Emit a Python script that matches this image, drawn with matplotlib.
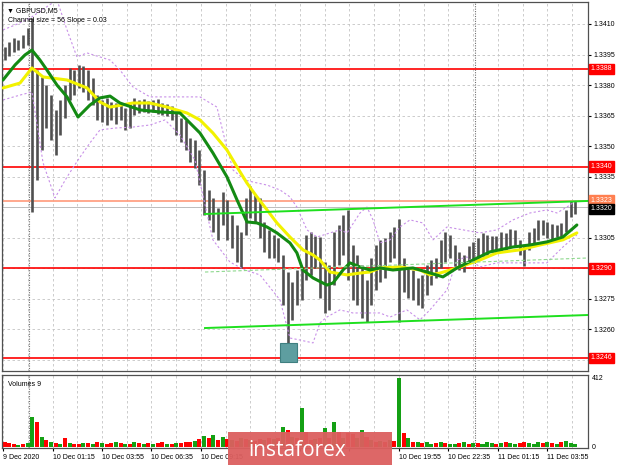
import numpy as np
import matplotlib
matplotlib.use('Agg')
import matplotlib.pyplot as plt
from matplotlib.patches import Rectangle

plt.rcParams['font.family'] = ['Liberation Sans', 'DejaVu Sans']

bar_idx = np.arange(124) * 3 + 1
highs = [1.33987, 1.34012, 1.34031, 1.34021, 1.34046, 1.34080, 1.34129, 1.33874, 1.33840, 1.33800,
         1.33751, 1.33678, 1.33727, 1.33800, 1.33884, 1.33874, 1.33899, 1.33894, 1.33874, 1.33835,
         1.33751, 1.33727, 1.33737, 1.33717, 1.33712, 1.33702, 1.33688, 1.33707, 1.33737, 1.33727,
         1.33732, 1.33722, 1.33727, 1.33732, 1.33712, 1.33707, 1.33697, 1.33668, 1.33638, 1.33629,
         1.33540, 1.33530, 1.33481, 1.33383, 1.33285, 1.33246, 1.33197, 1.33275, 1.33236, 1.33162,
         1.33113, 1.33079, 1.33246, 1.33305, 1.33260, 1.33246, 1.33128, 1.33089, 1.33064, 1.33049,
         1.32966, 1.32882, 1.32833, 1.32892, 1.32902, 1.33064, 1.33079, 1.33059, 1.33054, 1.32931,
         1.32917, 1.33079, 1.33113, 1.33162, 1.33187, 1.33015, 1.32966, 1.32917, 1.32843, 1.32951,
         1.33015, 1.33040, 1.33049, 1.33079, 1.33103, 1.33142, 1.32951, 1.32902, 1.32892, 1.32853,
         1.32868, 1.32917, 1.32941, 1.32951, 1.33040, 1.33079, 1.33064, 1.33015, 1.32981, 1.32966,
         1.33010, 1.33030, 1.33049, 1.33074, 1.33064, 1.33059, 1.33059, 1.33079, 1.33074, 1.33093,
         1.33089, 1.33040, 1.33010, 1.33079, 1.33098, 1.33138, 1.33138, 1.33128, 1.33118, 1.33113,
         1.33123, 1.33187, 1.33231, 1.33231]
lows = [1.33923, 1.33943, 1.33963, 1.33972, 1.33982, 1.33997, 1.33177, 1.33334, 1.33481, 1.33589,
        1.33530, 1.33457, 1.33555, 1.33638, 1.33727, 1.33751, 1.33786, 1.33766, 1.33727, 1.33702,
        1.33629, 1.33619, 1.33604, 1.33629, 1.33609, 1.33629, 1.33580, 1.33589, 1.33653, 1.33663,
        1.33668, 1.33663, 1.33668, 1.33658, 1.33653, 1.33648, 1.33629, 1.33555, 1.33521, 1.33481,
        1.33422, 1.33393, 1.33309, 1.33162, 1.33138, 1.33079, 1.33040, 1.33113, 1.33040, 1.33000,
        1.32931, 1.32902, 1.33064, 1.33147, 1.33128, 1.33049, 1.32981, 1.32951, 1.32951, 1.32931,
        1.32720, 1.32460, 1.32647, 1.32720, 1.32745, 1.32843, 1.32868, 1.32902, 1.32755, 1.32681,
        1.32696, 1.32818, 1.32917, 1.32966, 1.32843, 1.32745, 1.32720, 1.32656, 1.32637, 1.32720,
        1.32794, 1.32833, 1.32853, 1.32931, 1.32951, 1.32637, 1.32784, 1.32755, 1.32745, 1.32720,
        1.32706, 1.32769, 1.32818, 1.32853, 1.32902, 1.32931, 1.32951, 1.32902, 1.32892, 1.32882,
        1.32927, 1.32941, 1.32951, 1.32961, 1.32966, 1.32981, 1.32991, 1.32981, 1.32991, 1.33005,
        1.33010, 1.32966, 1.32912, 1.32991, 1.33015, 1.33040, 1.33064, 1.33049, 1.33040, 1.33054,
        1.33059, 1.33079, 1.33152, 1.33167]
volumes = [25, 20, 15, 10, 15, 20, 176, 145, 55, 40,
           25, 20, 15, 50, 24, 18, 15, 20, 22, 18,
           25, 20, 18, 22, 26, 20, 15, 18, 25, 20,
           15, 22, 18, 20, 25, 18, 15, 20, 22, 25,
           30, 35, 45, 66, 50, 70, 40, 55, 45, 40,
           35, 50, 45, 40, 35, 45, 40, 50, 45, 50,
           115, 97, 60, 50, 230, 85, 40, 45, 50, 110,
           50, 145, 85, 50, 80, 75, 50, 97, 60, 40,
           30, 35, 30, 40, 35, 412, 80, 50, 30, 25,
           20, 25, 18, 22, 25, 20, 15, 18, 20, 25,
           15, 20, 22, 18, 25, 20, 18, 22, 25, 20,
           18, 22, 25, 20, 18, 25, 22, 30, 20, 18,
           25, 36, 20, 18]
vol_dir = ("rrrgrggrgr" "grgrgrrgrg" "rgrrgrgrgr" "grgrrgrgrr" "rgrgrgrgrg"
           "rgrgrrgrgr" "grgrgrrgrg" "rgrgrrggrg" "rgrgrgrgrg" "rggrgrggrg"
           "rgrgggrgrg" "grrgggrgrg" "rggg")

# moving averages and bands (bar index, price)
ma_fast_x = [0, 7.8, 14.2, 18.7, 23.9, 28.4, 34.9, 41.4, 48.5, 56.2, 62.7, 69.2, 75.6, 88.6, 101.5,
             114.4, 127.3, 135.7, 144.8, 151.3, 157.7, 164.2, 170.7, 177.1, 185.5, 190.0, 193.9,
             200.4, 209.4, 213.3, 219.8, 224.3, 230.8, 237.2, 243.7, 252.1, 265.0, 274.1, 284.4,
             293.5, 303.8, 314.8, 329.7, 340.7, 351.6, 362.0, 371.0]
ma_fast = [1.33825, 1.33899, 1.33948, 1.33972, 1.33923, 1.33874, 1.33800, 1.33742, 1.33643, 1.33702,
           1.33737, 1.33746, 1.33712, 1.33678, 1.33668, 1.33663, 1.33565, 1.33467, 1.33349, 1.33236,
           1.33128, 1.33123, 1.33103, 1.33074, 1.33025, 1.32976, 1.32892, 1.32853, 1.32818, 1.32828,
           1.32892, 1.32927, 1.32907, 1.32892, 1.32902, 1.32892, 1.32902, 1.32882, 1.32858, 1.32902,
           1.32941, 1.32981, 1.33005, 1.33015, 1.33030, 1.33054, 1.33113]
ma_slow_x = [0, 11.0, 18.7, 25.9, 41.4, 54.3, 62.7, 69.2, 84.0, 95.0, 106.0, 118.9, 127.3, 135.7,
             144.8, 151.3, 157.7, 164.2, 170.7, 177.1, 185.5, 193.9, 200.4, 204.9, 211.4, 222.4,
             230.8, 237.2, 243.7, 256.6, 269.6, 276.0, 282.5, 293.5, 308.3, 319.3, 334.2, 347.2,
             362.0, 371.0]
ma_slow = [1.33786, 1.33810, 1.33884, 1.33840, 1.33825, 1.33786, 1.33717, 1.33692, 1.33712, 1.33712,
           1.33692, 1.33663, 1.33629, 1.33565, 1.33481, 1.33398, 1.33319, 1.33251, 1.33187, 1.33123,
           1.33054, 1.32991, 1.32966, 1.32941, 1.32882, 1.32868, 1.32877, 1.32882, 1.32902, 1.32907,
           1.32892, 1.32868, 1.32877, 1.32902, 1.32941, 1.32976, 1.32991, 1.33015, 1.33040, 1.33074]
band_up_x = [0, 7.8, 17.5, 27.2, 34.9, 41.4, 47.8, 54.3, 62.7, 69.2, 75.6, 84.0, 95.0, 106.0, 127.3,
             138.3, 143.5, 148.7, 156.4, 161.6, 170.7, 179.1, 185.5, 190.0, 196.5, 203.0, 211.4,
             217.8, 222.4, 230.8, 235.3, 239.2, 243.7, 250.2, 256.6, 263.1, 271.5, 278.0, 287.0,
             297.4, 308.3, 319.3, 329.7, 340.7, 351.6, 358.1, 364.6, 371.0]
band_up = [1.34071, 1.34095, 1.34129, 1.34179, 1.34218, 1.34071, 1.33938, 1.33958, 1.33938, 1.33923,
           1.33874, 1.33791, 1.33742, 1.33742, 1.33742, 1.33692, 1.33530, 1.33383, 1.33334, 1.33324,
           1.33309, 1.33285, 1.33251, 1.33201, 1.33089, 1.33054, 1.33074, 1.33089, 1.33074, 1.33172,
           1.33201, 1.33138, 1.33025, 1.33040, 1.33103, 1.33138, 1.33123, 1.33040, 1.33103, 1.33089,
           1.33074, 1.33089, 1.33138, 1.33172, 1.33187, 1.33172, 1.33201, 1.33236]
band_dn_x = [0, 11.0, 18.7, 25.9, 33.6, 41.4, 48.5, 56.2, 62.7, 72.4, 84.0, 95.0, 104.7, 114.4,
             124.1, 135.7, 146.7, 156.4, 166.1, 179.1, 185.5, 192.0, 200.4, 204.9, 209.4, 217.8,
             226.2, 235.3, 243.7, 250.2, 261.1, 269.6, 276.0, 287.0, 293.5, 299.9, 308.3, 319.3,
             340.7, 351.6, 362.0, 371.0]
band_dn = [1.33727, 1.33751, 1.33766, 1.33418, 1.33246, 1.33349, 1.33432, 1.33516, 1.33580, 1.33589,
           1.33594, 1.33604, 1.33629, 1.33555, 1.33432, 1.33040, 1.32931, 1.32892, 1.32868, 1.32745,
           1.32558, 1.32548, 1.32534, 1.32632, 1.32661, 1.32696, 1.32681, 1.32681, 1.32681, 1.32661,
           1.32696, 1.32647, 1.32696, 1.32794, 1.32941, 1.32956, 1.32907, 1.32927, 1.32927, 1.32927,
           1.33005, 1.33064]

# channel (start bar, end bar)
channel_x = [130.6, 378.2]
channel_top = [1.33167, 1.33231]
channel_mid = [1.32882, 1.32951]
channel_bot = [1.32607, 1.32671]

levels = [1.3388, 1.3340, 1.3290, 1.3246]
level_tags = ['1.3388', '1.3340', '1.3290', '1.3246']
ask_level, bid_level = 1.3323, 1.3320
box_bars = [179.3, 190.1]
box_prices = [1.32440, 1.32534]

price_ticks = [1.3260, 1.3275, 1.3305, 1.3335, 1.3350, 1.3365, 1.3380, 1.3395, 1.3410]
grid_prices = [1.3245, 1.3260, 1.3275, 1.3290, 1.3305, 1.3320, 1.3335, 1.3350, 1.3365,
               1.3380, 1.3395, 1.3410]
time_ticks = [0, 32, 64, 96, 128, 160, 192, 224, 256, 288, 320, 352]
# labels at 11:55, 14:35 and 17:15 sit under the watermark
time_labels = ['9 Dec 2020', '10 Dec 01:15', '10 Dec 03:55', '10 Dec 06:35', '10 Dec 09:15',
               '', '', '', '10 Dec 19:55', '10 Dec 22:35', '11 Dec 01:15', '11 Dec 03:55']
day_breaks = [17, 305]

W, H = 620, 465
fig = plt.figure(figsize=(6.2, 4.65), dpi=100)
ax = fig.add_axes([2 / W, (H - 371) / H, 586 / W, 369 / H])
axv = fig.add_axes([2 / W, (H - 448) / H, 586 / W, 73 / H])

for a in (ax, axv):
    a.set_xlim(-0.65, 378.2)
    for b in range(0, 378, 16):
        a.axvline(b, color='#c4c4c4', lw=0.6, ls=(0, (3, 3)), zorder=0.5)
    for b in day_breaks:
        a.axvline(b, color='#707070', lw=0.8, ls=(0, (1, 1.2)), zorder=0.6)
    for s in a.spines.values():
        s.set_color('#505050')
        s.set_linewidth(0.9)

ax.set_ylim(1.32396, 1.34208)
for p in grid_prices:
    ax.axhline(p, color='#c4c4c4', lw=0.6, ls=(0, (3, 3)), zorder=0.5)

# levels
for p in levels:
    ax.axhline(p, color='#ff0000', lw=1.2, zorder=1.5)
ax.axhline(ask_level, color='#ff9a7a', lw=1.2, zorder=1.5)
ax.axhline(bid_level, color='#bdbdbd', lw=0.7, zorder=1.5)

# price bars
ax.vlines(bar_idx, lows, highs, color='#505050', lw=1.9, zorder=2)

# bands and averages
ax.plot(band_up_x, band_up, color='#c890e8', lw=0.8, ls=(0, (2, 2)), zorder=2.5)
ax.plot(band_dn_x, band_dn, color='#c890e8', lw=0.8, ls=(0, (2, 2)), zorder=2.5)
ax.plot(ma_slow_x, ma_slow, color='#f2f200', lw=2.2, zorder=3, solid_capstyle='round')
ax.plot(ma_fast_x, ma_fast, color='#138a13', lw=2.2, zorder=3.5, solid_capstyle='round')

# channel
ax.plot(channel_x, channel_top, color='#1ee01e', lw=1.4, zorder=4)
ax.plot(channel_x, channel_bot, color='#1ee01e', lw=1.4, zorder=4)
ax.plot(channel_x, channel_mid, color='#8ed88e', lw=0.8, ls=(0, (3, 2)), zorder=4)

ax.add_patch(Rectangle((box_bars[0], box_prices[0]), box_bars[1] - box_bars[0],
                       box_prices[1] - box_prices[0], facecolor='#5e9ea0',
                       edgecolor='#3f7f80', lw=0.8, zorder=4.5))

ax.yaxis.tick_right()
ax.set_yticks(price_ticks)
ax.set_yticklabels(['%.4f' % p for p in price_ticks])
ax.tick_params(axis='y', labelsize=5, length=2, pad=2, colors='black')
ax.set_xticks([])

tr = ax.get_yaxis_transform()
for p, t in zip(levels, level_tags):
    ax.text(1.004, p, t, transform=tr, va='center', ha='left', fontsize=5, color='white',
            bbox=dict(boxstyle='square,pad=0.25', fc='#ff0000', ec='#ff0000'), clip_on=False, zorder=10)
ax.text(1.004, ask_level + 0.00004, '%.4f' % ask_level, transform=tr, va='center', ha='left',
        fontsize=5, color='white', bbox=dict(boxstyle='square,pad=0.25', fc='#ff7f50', ec='#ff7f50'),
        clip_on=False, zorder=10)
ax.text(1.004, bid_level - 0.00008, '%.4f' % bid_level, transform=tr, va='center', ha='left',
        fontsize=5, color='white', bbox=dict(boxstyle='square,pad=0.25', fc='black', ec='black'),
        clip_on=False, zorder=11)

ax.text(0.008, 0.985, '\u25bc GBPUSD,M5', transform=ax.transAxes, fontsize=5, va='top', ha='left')
ax.text(0.01, 0.96, 'Channel size = 56 Slope = 0.03', transform=ax.transAxes, fontsize=5,
        va='top', ha='left')

# volumes
vcol = ['#14a014' if c == 'g' else '#ff0000' for c in vol_dir]
axv.bar(bar_idx, volumes, width=2.6, color=vcol, zorder=2)
axv.set_ylim(-9, 430)
axv.yaxis.tick_right()
axv.set_yticks([0, 412])
axv.set_yticklabels(['0', '412'])
axv.tick_params(axis='y', labelsize=5, length=0, pad=3)
axv.set_xticks(time_ticks)
axv.set_xticklabels(time_labels, ha='left')
axv.tick_params(axis='x', labelsize=5, length=2, pad=2)
axv.text(0.01, 0.92, 'Volumes 9', transform=axv.transAxes, fontsize=5, va='top', ha='left')

# watermark
fig.add_artist(Rectangle((228 / W, 0), 164 / W, 33 / H, transform=fig.transFigure,
                         facecolor='#dc5f5f', edgecolor='none', alpha=0.95, zorder=5))
fig.text(297 / W, 15 / H, 'instaforex', color='white', fontsize=15, ha='center', va='center',
         family=['Open Sans', 'DejaVu Sans'], zorder=6)

fig.savefig('out.png', dpi=100)
